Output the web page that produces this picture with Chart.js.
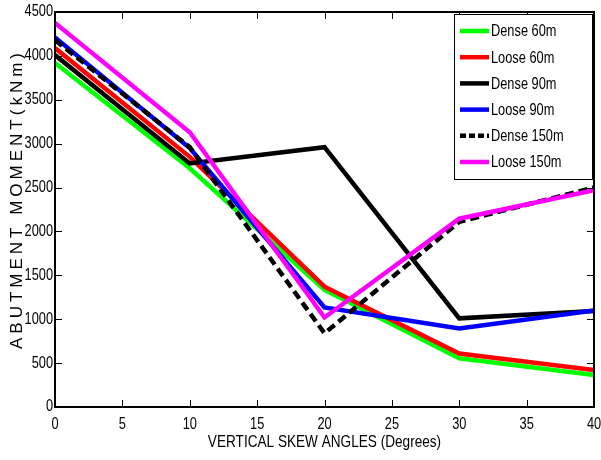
<!DOCTYPE html>
<html>
<head>
<meta charset="utf-8">
<script src="https://cdn.jsdelivr.net/npm/chart.js@4"></script>
<style>
  body { margin: 0; background: #fff; }
  #wrap { width: 601px; height: 460px; }
</style>
</head>
<body>
<div id="wrap"><canvas id="chart" width="601" height="460"></canvas></div>
<script>
const angles = [0, 10, 20, 30, 40]
const dense60 = [3920, 2720, 1335, 555, 365]
const loose60 = [4090, 2850, 1370, 610, 420]
const dense90 = [4010, 2775, 2960, 1010, 1095]
const loose90 = [4210, 2950, 1135, 895, 1100]
const dense150 = [4180, 2960, 840, 2110, 2500]
const loose150 = [4375, 3130, 1020, 2145, 2470]

const seriesNames = ['Dense 60m', 'Loose 60m', 'Dense 90m', 'Loose 90m', 'Dense 150m', 'Loose 150m']
const seriesData = [dense60, loose60, dense90, loose90, dense150, loose150]
const seriesColors = ['#00ff00', '#ff0000', '#000000', '#0000ff', '#000000', '#ff00ff']
const seriesDash = [[], [], [], [], [9, 5], []]

const xTitle = 'VERTICAL SKEW ANGLES (Degrees)'
const yTitle = 'ABUTMENT MOMENT(kNm)'

const sans = "'Liberation Sans', Arial, sans-serif"

// the original uses a condensed Arial; squeeze regular Arial sideways
function narrowText(ctx, text, x, y, align, size) {
  ctx.save()
  ctx.translate(x, y)
  ctx.scale(0.8, 1)
  ctx.font = size + 'px ' + sans
  ctx.textAlign = align
  ctx.textBaseline = 'middle'
  ctx.fillStyle = '#000'
  ctx.fillText(text, 0, 0)
  ctx.restore()
}

const datasets = seriesNames.map((name, i) => ({
  label: name,
  data: angles.map((a, j) => ({ x: a, y: seriesData[i][j] })),
  borderColor: seriesColors[i],
  backgroundColor: seriesColors[i],
  borderWidth: 4.5,
  borderDash: seriesDash[i],
  pointRadius: 0,
  tension: 0,
  order: seriesNames.length - i,
}))

// box around plot, inward ticks, tick labels and axis titles
const framePlugin = {
  id: 'frame',
  afterDatasetsDraw(chart) {
    const { ctx, chartArea: a, scales } = chart
    ctx.save()
    ctx.strokeStyle = '#000'
    ctx.lineWidth = 1
    ctx.beginPath()
    scales.x.ticks.forEach(t => {
      const px = Math.round(scales.x.getPixelForValue(t.value)) + 0.5
      ctx.moveTo(px, a.bottom); ctx.lineTo(px, a.bottom - 7)
      ctx.moveTo(px, a.top); ctx.lineTo(px, a.top + 7)
    })
    scales.y.ticks.forEach(t => {
      const py = Math.round(scales.y.getPixelForValue(t.value)) + 0.5
      ctx.moveTo(a.left, py); ctx.lineTo(a.left + 7, py)
      ctx.moveTo(a.right, py); ctx.lineTo(a.right - 7, py)
    })
    ctx.stroke()
    ctx.lineWidth = 2
    ctx.strokeRect(a.left, a.top, a.right - a.left, a.bottom - a.top)
    ctx.restore()

    scales.x.ticks.forEach(t => {
      narrowText(ctx, String(t.value), scales.x.getPixelForValue(t.value), a.bottom + 18, 'center', 16)
    })
    scales.y.ticks.forEach(t => {
      narrowText(ctx, String(t.value), a.left - 2, scales.y.getPixelForValue(t.value), 'right', 16)
    })
    narrowText(ctx, xTitle, (a.left + a.right) / 2, a.bottom + 35, 'center', 17)

    ctx.save()
    ctx.translate(17, 199)
    ctx.rotate(-Math.PI / 2)
    ctx.font = '17px ' + sans
    ctx.letterSpacing = '4px'
    ctx.fillStyle = '#000'
    ctx.textAlign = 'center'
    ctx.textBaseline = 'middle'
    ctx.fillText(yTitle, 0, 0)
    ctx.restore()
  }
}

// legend box inside the top right corner
const legendPlugin = {
  id: 'boxLegend',
  afterDraw(chart) {
    const { ctx } = chart
    const left = 454, top = 14, w = 138, h = 165
    ctx.save()
    ctx.fillStyle = '#fff'
    ctx.fillRect(left, top, w, h)
    ctx.strokeStyle = '#000'
    ctx.lineWidth = 1
    ctx.strokeRect(left + 0.5, top + 0.5, w, h)
    seriesNames.forEach((name, i) => {
      const y = 31 + i * 26.2
      ctx.strokeStyle = seriesColors[i]
      ctx.lineWidth = 4.5
      ctx.setLineDash(seriesDash[i].length ? [6, 3] : [])
      ctx.beginPath()
      ctx.moveTo(460, y); ctx.lineTo(489, y)
      ctx.stroke()
      ctx.setLineDash([])
      narrowText(ctx, name, 491, y + 1, 'left', 16)
    })
    ctx.restore()
  }
}

new Chart(document.getElementById('chart'), {
  type: 'line',
  data: { datasets },
  plugins: [framePlugin, legendPlugin],
  options: {
    responsive: false,
    animation: false,
    layout: { padding: { top: 12, right: 7, left: 0, bottom: 0 } },
    plugins: { legend: { display: false }, tooltip: { enabled: false } },
    scales: {
      x: {
        type: 'linear',
        min: 0, max: 40,
        ticks: { stepSize: 5, display: false },
        grid: { display: false, drawTicks: false },
        border: { display: false },
        afterFit(s) { s.height = 53 },
      },
      y: {
        min: 0, max: 4500,
        ticks: { stepSize: 500, display: false },
        grid: { display: false, drawTicks: false },
        border: { display: false },
        afterFit(s) { s.width = 55 },
      },
    },
  },
})
</script>
</body>
</html>
